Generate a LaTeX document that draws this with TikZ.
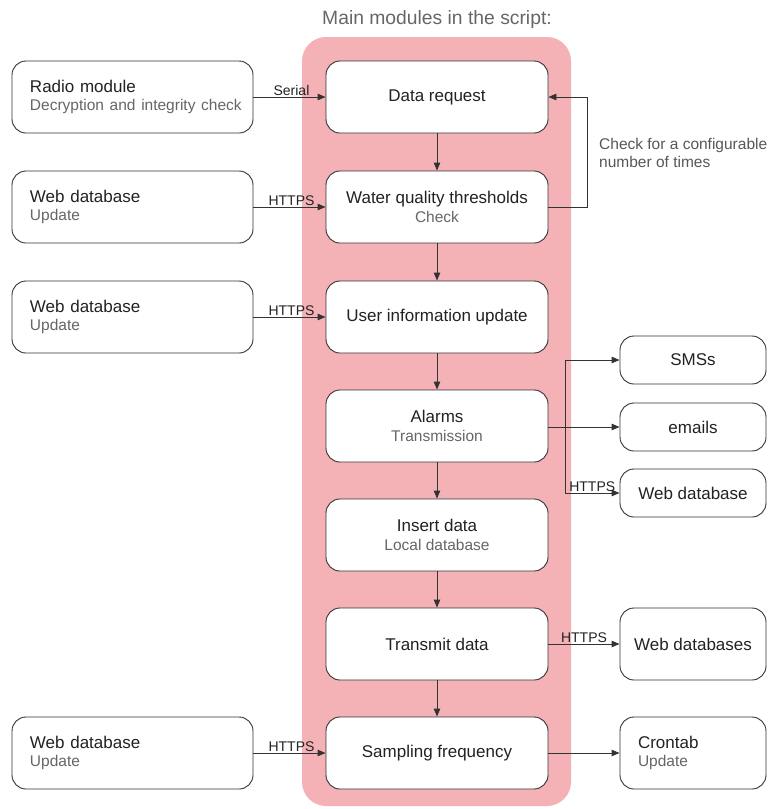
\documentclass[tikz,border=0pt]{standalone}
\usepackage{fontspec}
\setmainfont{Liberation Sans}
\usetikzlibrary{arrows.meta}
\definecolor{pinkbg}{HTML}{F4B1B6}
\definecolor{txt}{HTML}{222222}
\definecolor{subtxt}{HTML}{666666}
\definecolor{edge}{HTML}{333333}
\newcommand{\subt}[1]{{\color{subtxt}\fontsize{15.5}{18}\selectfont\mbox{#1}}}
\begin{document}
\begin{tikzpicture}[x=1pt,y=-1pt,
  box/.style={draw=edge, line width=0.9pt, fill=white, rounded corners=14pt, text=txt,
    font=\fontsize{17}{18}\selectfont, align=center, inner sep=0pt},
  cbox/.style={box, minimum width=222pt, minimum height=72pt},
  lbox/.style={box, minimum width=241pt, minimum height=72pt, align=left, text width=205pt},
  rbox/.style={box, minimum width=146pt, minimum height=48pt},
  rbbox/.style={box, minimum width=146pt, minimum height=72pt},
  conn/.style={draw=edge, line width=0.9pt, -{Triangle[length=8pt,width=6.5pt]}},
  lab/.style={font=\fontsize{14}{16}\selectfont, text=txt, inner sep=1pt},
]
\useasboundingbox (0,0) rectangle (768,809);
\fill[pinkbg, rounded corners=24pt] (302,37) rectangle (571,806);
\node[font=\fontsize{19.3}{22}\selectfont, text=subtxt] (title) at (437,20) {Main modules in the script:};

% center column
\node[cbox] (dr) at (437,97) {Data request};
\node[cbox] (wq) at (437,207) {Water quality thresholds\\[0.5pt]\subt{Check}};
\node[cbox] (ui) at (437,317) {User information update};
\node[cbox] (al) at (437,426) {Alarms\\[0.5pt]\subt{Transmission}};
\node[cbox] (id) at (437,535) {Insert data\\[0.5pt]\subt{Local database}};
\node[cbox] (td) at (437,644) {Transmit data};
\node[cbox] (sf) at (437,753) {Sampling frequency};

% left column
\node[lbox] (rm) at (132.5,97) {Radio module\\[0.5pt]\subt{Decryption and integrity check}};
\node[lbox] (w1) at (132.5,207) {Web database\\[0.5pt]\subt{Update}};
\node[lbox] (w2) at (132.5,317) {Web database\\[0.5pt]\subt{Update}};
\node[lbox] (w3) at (132.5,753) {Web database\\[0.5pt]\subt{Update}};

% right column
\node[rbox] (sms) at (693,360) {SMSs};
\node[rbox] (em) at (693,427) {emails};
\node[rbox] (wdb) at (693,493) {Web database};
\node[rbbox] (wds) at (693,644) {Web databases};
\node[rbbox, align=left, text width=110pt] (ct) at (693,753) {Crontab\\[0.5pt]\subt{Update}};

% vertical flow
\draw[conn] (dr) -- (wq);
\draw[conn] (wq) -- (ui);
\draw[conn] (ui) -- (al);
\draw[conn] (al) -- (id);
\draw[conn] (id) -- (td);
\draw[conn] (td) -- (sf);

% left inputs
\draw[conn] (rm) -- node[lab, above, xshift=2pt] {Serial} (dr);
\draw[conn] (w1) -- node[lab, above, xshift=2pt] {HTTPS} (wq);
\draw[conn] (w2) -- node[lab, above, xshift=2pt] {HTTPS} (ui);
\draw[conn] (w3) -- node[lab, above, xshift=2pt] {HTTPS} (sf);

% loop
\coordinate (lp1) at (587,207);
\coordinate (lp2) at (587,97);
\draw[conn] (wq.east) -- (lp1) -- (lp2) -- (dr.east);
\node[lab, anchor=west, align=left, text=subtxt!85!black, font=\fontsize{15.5}{17.5}\selectfont] (chk) at (598,153) {Check for a configurable\\number of times};

% alarms branch
\coordinate (br) at (565,427);
\draw[conn] (al.east |- br) -- (em.west);
\draw[conn] (br) |- (sms.west);
\draw[conn] (br) |- node[lab, above, pos=0.75] {HTTPS} (wdb.west);

% outputs
\draw[conn] (td) -- node[lab, above] {HTTPS} (wds);
\draw[conn] (sf) -- (ct);
\end{tikzpicture}
\end{document}
